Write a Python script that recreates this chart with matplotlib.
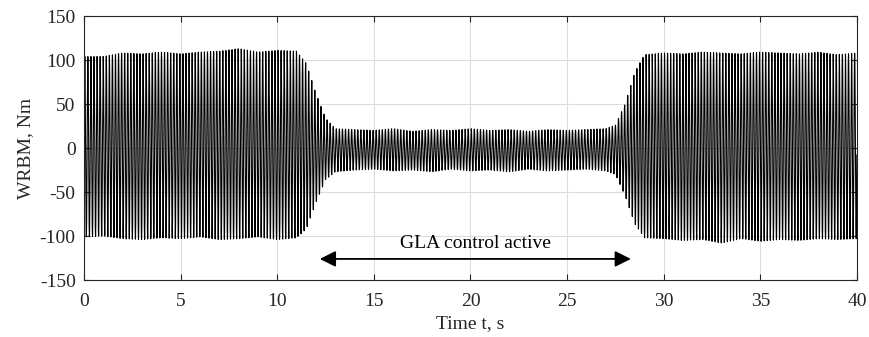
import numpy as np
import matplotlib
matplotlib.use("Agg")
import matplotlib.pyplot as plt

# Envelope of the oscillating wing-root bending moment
env_t = [0, 1, 2, 3, 4, 5, 6, 7, 8, 9, 10, 11, 11.5, 12, 12.5, 13, 14, 15, 16, 17,
         18, 19, 20, 21, 22, 23, 24, 25, 26, 27, 27.5, 28, 28.5, 29, 30, 31, 32, 33,
         34, 35, 36, 37, 38, 39, 40]
env_upper = [104, 104, 108, 107, 109, 107, 109, 110, 113, 109, 111, 110, 96, 62, 34, 22,
             21, 20, 22, 19, 21, 20, 22, 20, 21, 19, 21, 20, 21, 22, 26, 50, 86, 106,
             108, 107, 109, 108, 107, 109, 108, 107, 109, 106, 108]
env_lower = [-101, -100, -103, -104, -102, -103, -101, -104, -103, -101, -104, -102, -92,
             -62, -36, -27, -25, -24, -26, -25, -27, -24, -26, -25, -27, -24, -26, -25,
             -24, -26, -30, -54, -86, -102, -103, -105, -104, -108, -103, -106, -104,
             -105, -103, -104, -103]
carrier_hz = 6.3
t_start, t_end = 0.0, 40.0

x_ticks = [0, 5, 10, 15, 20, 25, 30, 35, 40]
y_ticks = [-150, -100, -50, 0, 50, 100, 150]
annotation_text = "GLA control active"
arrow_t = [12.2, 28.3]

fs = 400
t = np.arange(t_start, t_end, 1.0 / fs)
up = np.interp(t, env_t, env_upper)
lo = np.interp(t, env_t, env_lower)
mid = 0.5 * (up + lo)
amp = 0.5 * (up - lo)
y = mid + amp * np.sin(2 * np.pi * carrier_hz * t)

plt.rcParams['font.family'] = ['Liberation Serif', 'DejaVu Serif']
plt.rcParams['axes.unicode_minus'] = False
fig = plt.figure(figsize=(8.7, 3.37), dpi=100)
ax = fig.add_axes([0.0966, 0.169, 0.8884, 0.7835])
ax.plot(t, y, color='black', linewidth=0.8)
ax.set_xlim(0, 40)
ax.set_ylim(-150, 150)
ax.set_xticks(x_ticks)
ax.set_yticks(y_ticks)
ax.grid(True, color='#dddddd', linewidth=0.8)
ax.set_axisbelow(True)
ax.tick_params(direction='in', labelsize=14, colors='#262626', length=4,
               top=True, right=True, pad=6)
ax.tick_params(axis='x', pad=9)
ax.tick_params(labeltop=False, labelright=False)
for s in ax.spines.values():
    s.set_color('#262626')
    s.set_linewidth(0.8)
ax.set_xlabel('Time t, s', fontsize=14, color='#262626', labelpad=4)
ax.set_ylabel('WRBM, Nm', fontsize=14, color='#262626', labelpad=4)

ax.annotate('', xy=(arrow_t[0], -126), xytext=(arrow_t[1], -126),
            arrowprops=dict(arrowstyle='<|-|>', color='black', lw=1.3,
                            mutation_scale=24, shrinkA=0, shrinkB=0))
ax.text(0.5 * (arrow_t[0] + arrow_t[1]), -109, annotation_text, ha='center',
        va='center', fontsize=14, color='black')

fig.savefig('out.png', dpi=100)
